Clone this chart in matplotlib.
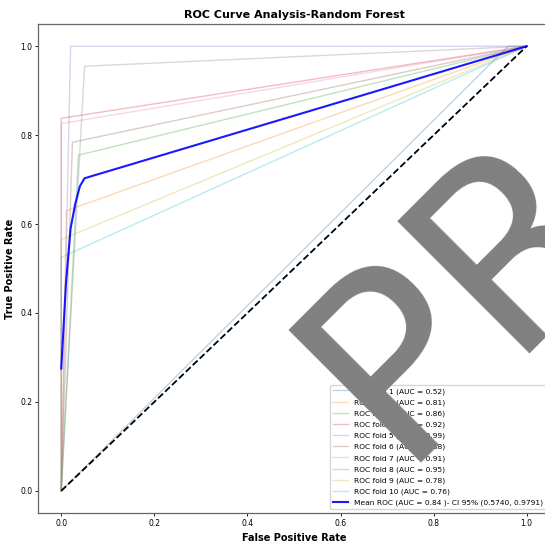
import numpy as np
import matplotlib
matplotlib.use("Agg")
import matplotlib.pyplot as plt

# per-fold ROC operating points (one threshold each): (0,0) -> (fpr, tpr) -> (1,1)
fold_fpr = [0.96, 0.011, 0.037, 0.0, 0.02, 0.024, 0.0, 0.05, 0.0, 0.0]
fold_tpr = [1.0, 0.63, 0.755, 0.838, 1.0, 0.784, 0.826, 0.955, 0.565, 0.525]
fold_auc = [0.52, 0.81, 0.86, 0.92, 0.99, 0.88, 0.91, 0.95, 0.78, 0.76]

# mean ROC over the folds
mean_fpr = [0.0, 0.01, 0.02, 0.03, 0.04, 0.05, 1.0]
mean_tpr = [0.275, 0.465, 0.59, 0.645, 0.685, 0.703, 1.0]
mean_auc = 0.84
ci_low, ci_high = 0.5740, 0.9791

fig = plt.figure(figsize=(5.45, 5.43), dpi=100)
ax = fig.add_axes([0.0697, 0.0552, 0.9394, 0.9006])

for i, (f, t, a) in enumerate(zip(fold_fpr, fold_tpr, fold_auc)):
    ax.plot([0, f, 1], [0, t, 1], lw=1, alpha=0.3,
            label="ROC fold %d (AUC = %0.2f)" % (i + 1, a))

ax.plot([0, 1], [0, 1], ls="--", lw=1.3, color="k")
ax.plot(mean_fpr, mean_tpr, color="b", lw=1.5, alpha=0.9,
        label="Mean ROC (AUC = %0.2f )- CI 95%% (%0.4f, %0.4f)"
        % (mean_auc, ci_low, ci_high))

ax.set_xlim(-0.05, 1.05)
ax.set_ylim(-0.05, 1.05)
ax.set_xlabel("False Positive Rate", fontsize=7, fontweight="bold")
ax.set_ylabel("True Positive Rate", fontsize=7, fontweight="bold")
ax.set_title("ROC Curve Analysis-Random Forest", fontsize=8, fontweight="bold", pad=4)
ax.tick_params(labelsize=5.5, length=2, width=0.6, pad=2)
for s in ax.spines.values():
    s.set_color("#666666")
    s.set_linewidth(0.9)
ax.legend(loc="lower right", fontsize=5.4, labelspacing=0.59, framealpha=0.8)

# watermark across the plot
fig.text(0.7259, 0.1484, "PRO", rotation=45, rotation_mode="anchor",
         ha="left", va="baseline", fontsize=185, color="#808080", zorder=10)

fig.savefig("out.png", dpi=100)
